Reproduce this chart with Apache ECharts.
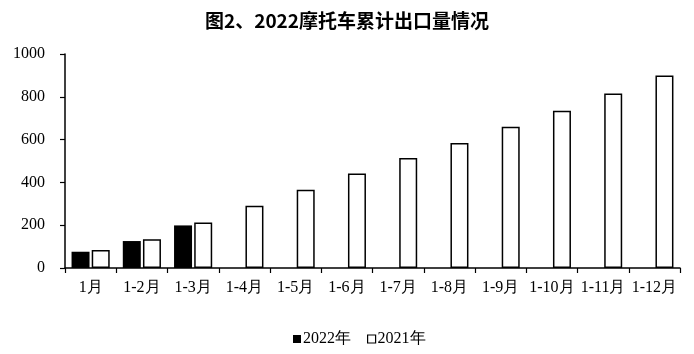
<!DOCTYPE html>
<html><head><meta charset="utf-8">
<script src="https://cdn.jsdelivr.net/npm/echarts@6/dist/echarts.min.js"></script>
<style>html,body{margin:0;padding:0;background:#fff}#c{width:694px;height:354px}</style>
</head><body><div id="c"></div>
<script>
const categories = ['1月','1-2月','1-3月','1-4月','1-5月','1-6月','1-7月','1-8月','1-9月','1-10月','1-11月','1-12月'];
const values2022 = [76, 126, 199, null, null, null, null, null, null, null, null, null];
const values2021 = [84, 134, 213, 291, 366, 442, 514, 584, 660, 735, 816, 900];
const yTicks = [0, 200, 400, 600, 800, 1000];
const titleText = '图2、2022摩托车累计出口量情况';

const serif = "Liberation Serif";
const chart = echarts.init(document.getElementById('c'));
chart.setOption({
  animation: false,
  title: { text: titleText, left: 'center', top: 6,
    textStyle: { fontFamily: 'Noto Sans CJK SC', fontWeight: 'bold', fontSize: 19, color: '#000' } },
  legend: { bottom: 2, left: 288, itemWidth: 8, itemHeight: 8, itemGap: 16,
    textStyle: { fontFamily: serif, fontSize: 16, color: '#000', padding: [0,0,0,-3] },
    data: [
      { name: '2022年', icon: 'rect', itemStyle: { color: '#000', borderWidth: 0 } },
      { name: '2021年', icon: 'rect', itemStyle: { color: '#fff', borderColor: '#000', borderWidth: 1.2 } }
    ] },
  grid: { left: 65, right: 14, top: 54, bottom: 86 },
  xAxis: { type: 'category', data: categories,
    axisLine: { lineStyle: { color: '#000', width: 1.5 } },
    axisTick: { show: true, alignWithLabel: false, length: 5, lineStyle: { color: '#000', width: 1.2 } },
    axisLabel: { fontFamily: serif, fontSize: 16, color: '#000', margin: 12, interval: 0 } },
  yAxis: { type: 'value', min: yTicks[0], max: yTicks[yTicks.length-1], interval: 200,
    splitLine: { show: false },
    axisLine: { show: true, lineStyle: { color: '#000', width: 1.5 } },
    axisTick: { show: true, length: 5, lineStyle: { color: '#000', width: 1.2 } },
    axisLabel: { fontFamily: serif, fontSize: 16, color: '#000', margin: 20, formatter: v => String(v) } },
  series: [
    { name: '2022年', type: 'bar', data: values2022, barWidth: 18, barGap: '12%',
      itemStyle: { color: '#000', borderColor: '#000', borderWidth: 0 } },
    { name: '2021年', type: 'bar', data: values2021, barWidth: 18,
      itemStyle: { color: '#fff', borderColor: '#000', borderWidth: 1.5 } }
  ]
});
</script></body></html>
